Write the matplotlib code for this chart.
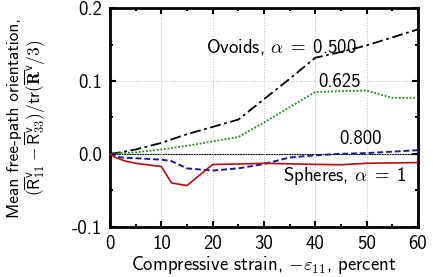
import matplotlib
matplotlib.use("Agg")
import matplotlib.pyplot as plt
from matplotlib.ticker import MultipleLocator

plt.rcParams['font.family'] = ['cmss10', 'DejaVu Sans']
plt.rcParams['mathtext.fontset'] = 'cm'
plt.rcParams['axes.unicode_minus'] = False
plt.rcParams['axes.formatter.use_mathtext'] = False

# Ovoids alpha = 0.500
x_a500 = [0, 2, 5, 10, 15, 20, 25, 30, 35, 40, 45, 50, 55, 60]
y_a500 = [0.0, 0.002, 0.006, 0.015, 0.027, 0.037, 0.047, 0.075, 0.103, 0.132, 0.140, 0.149, 0.160, 0.171]
# alpha = 0.625
x_a625 = [0, 5, 10, 15, 20, 25, 30, 35, 40, 45, 50, 55, 60]
y_a625 = [0.0, 0.002, 0.006, 0.011, 0.017, 0.023, 0.043, 0.064, 0.085, 0.086, 0.087, 0.077, 0.077]
# alpha = 0.800
x_a800 = [0, 2, 5, 10, 12, 15, 20, 25, 30, 35, 40, 45, 50, 55, 60]
y_a800 = [0.0, -0.005, -0.006, -0.008, -0.010, -0.020, -0.023, -0.020, -0.014, -0.005, -0.002, 0.0, 0.001, 0.003, 0.005]
# Spheres alpha = 1
x_sph = [0, 1, 3, 5, 10, 12, 15, 20, 25, 30, 40, 45, 50, 60]
y_sph = [0.0, -0.005, -0.010, -0.013, -0.0175, -0.040, -0.0436, -0.0147, -0.014, -0.013, -0.0145, -0.015, -0.013, -0.012]

xticks = [0, 10, 20, 30, 40, 50, 60]
yticks = [-0.1, 0.0, 0.1, 0.2]
yticklabels = ['-0.1', '0.0', '0.1', '0.2']

fig = plt.figure(figsize=(4.33, 2.77), dpi=100)
ax = fig.add_axes([0.254, 0.182, 0.711, 0.788])

ax.axhline(0, color='black', lw=0.8, zorder=1)
ax.plot(x_a500, y_a500, color='black', lw=1.3, ls=(0, (6, 2, 1.5, 2)), zorder=3)
ax.plot(x_a625, y_a625, color='#1a8a1a', lw=1.3, ls=(0, (1, 1)), zorder=3)
ax.plot(x_a800, y_a800, color='#1a1a9a', lw=1.4, ls=(0, (3, 1.5)), zorder=3)
ax.plot(x_sph, y_sph, color='#b01010', lw=1.2, ls='-', zorder=3)

fs = 13.5
ax.text(18.8, 0.147, r'Ovoids, $\alpha\;=\;$0.500', fontsize=fs, va='center', ha='left')
ax.text(40.5, 0.0985, '0.625', fontsize=fs, va='center', ha='left')
ax.text(44.6, 0.0206, '0.800', fontsize=fs, va='center', ha='left')
ax.text(33.8, -0.030, r'Spheres, $\alpha\;=\;$1', fontsize=fs, va='center', ha='left')

ax.set_xlim(0, 60)
ax.set_ylim(-0.1, 0.2)
ax.set_xticks(xticks)
ax.set_yticks(yticks)
ax.set_yticklabels(yticklabels)
ax.xaxis.set_minor_locator(MultipleLocator(5))
ax.yaxis.set_minor_locator(MultipleLocator(0.05))
ax.tick_params(which='both', direction='in', top=True, right=True, labelsize=fs, width=1.5)
ax.tick_params(which='major', length=4, pad=6)
ax.tick_params(which='minor', length=2.5)
ax.grid(True, which='major', color='#bbbbbb', ls=':', lw=0.7)
for s in ax.spines.values():
    s.set_linewidth(2)

ax.set_xlabel(r'Compressive strain, $-\varepsilon_{11}$, percent', fontsize=fs, labelpad=1)
ax.set_ylabel('Mean free-path orientation,\n'
              r'$(\overline{\mathsf{R}}^{\mathsf{v}}_{11} - \overline{\mathsf{R}}^{\mathsf{v}}_{33})/\mathsf{tr}(\overline{\mathbf{R}}^{\mathsf{v}}/3)$',
              fontsize=12.5, linespacing=1.05)
ax.yaxis.set_label_coords(-0.2, 0.5)

fig.savefig('out.png', dpi=100)
